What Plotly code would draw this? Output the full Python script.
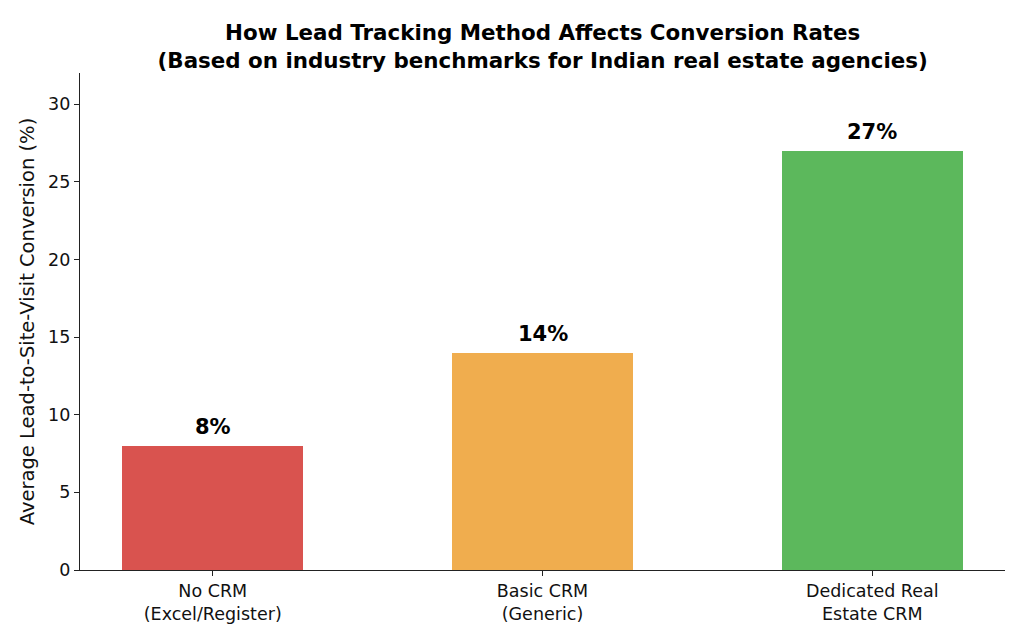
import plotly.graph_objects as go

categories = ["No CRM<br>(Excel/Register)", "Basic CRM<br>(Generic)", "Dedicated Real<br>Estate CRM"]
values = [8, 14, 27]
labels = ["8%", "14%", "27%"]
colors = ["#d9534f", "#f0ad4e", "#5cb85c"]
yticks = [0, 5, 10, 15, 20, 25, 30]

x = list(range(len(categories)))
font = "DejaVu Sans"

fig = go.Figure()
fig.add_trace(go.Bar(
    x=x, y=values, width=0.55,
    marker=dict(color=colors, line=dict(width=0)),
    hoverinfo="skip",
))
for xi, v, t in zip(x, values, labels):
    fig.add_annotation(x=xi, y=v + 0.3, text="<b>" + t + "</b>", showarrow=False,
                       yanchor="bottom", font=dict(family=font, size=21, color="black"))

fig.update_layout(
    width=1024, height=640,
    margin=dict(l=80, r=19, t=73, b=70),
    plot_bgcolor="white", paper_bgcolor="white",
    showlegend=False,
    font=dict(family=font, color="black"),
    title=dict(
        text="<b>How Lead Tracking Method Affects Conversion Rates<br>(Based on industry benchmarks for Indian real estate agencies)</b>",
        x=0.53, xanchor="center", y=1 - 40 / 640, yanchor="middle",
        font=dict(family=font, size=21.4, color="black"),
    ),
    bargap=0,
)
fig.update_xaxes(
    range=[-0.4025, 2.4025], tickvals=x, ticktext=categories,
    showline=True, linecolor="#222", linewidth=1.2,
    ticks="outside", ticklen=5, tickcolor="#222", tickwidth=1.2,
    showgrid=False, zeroline=False,
    tickfont=dict(family=font, size=17.5, color="#111"),
)
fig.update_yaxes(
    range=[0, 32], tickvals=yticks,
    showline=True, linecolor="#222", linewidth=1.2,
    ticks="outside", ticklen=5, tickcolor="#222", tickwidth=1.2,
    showgrid=False, zeroline=False,
    tickfont=dict(family=font, size=17.5, color="#111"),
    title=dict(text="Average Lead-to-Site-Visit Conversion (%)", font=dict(family=font, size=19.5, color="#111"), standoff=8),
)

fig.write_html("out.html")
